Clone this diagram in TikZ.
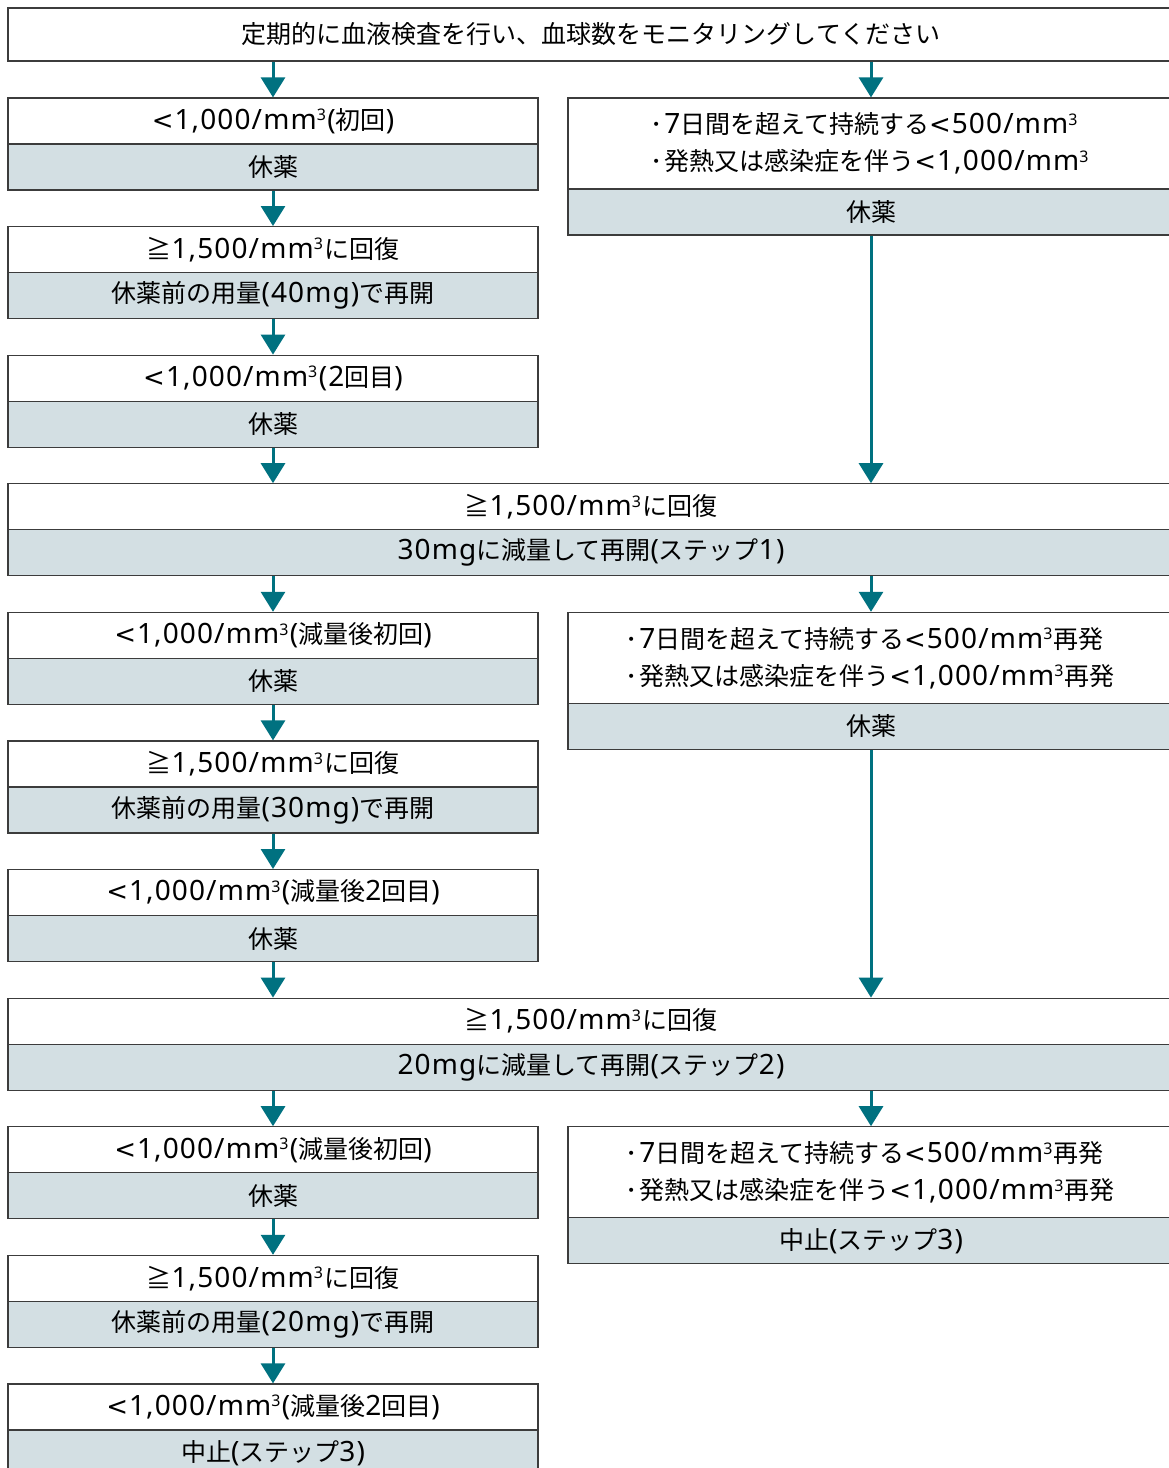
\documentclass[tikz,border=0pt]{standalone}
\usepackage{fontspec}
\setmainfont{Noto Sans CJK JP}
\newfontfamily\latfont[LetterSpace=4]{Noto Sans}
\newfontfamily\symfont{DejaVu Sans}
\usetikzlibrary{arrows.meta}
\definecolor{flowteal}{RGB}{0,113,128}
\definecolor{boxgray}{RGB}{211,223,227}
\definecolor{edgegray}{RGB}{60,60,60}
\newcommand{\lt}[1]{{\latfont\fontsize{28}{37}\selectfont #1}}
\newcommand{\lth}{{\symfont\fontsize{26}{37}\selectfont <}\kern1pt}
\newcommand{\cubed}{\raisebox{8.5pt}{\fontsize{16}{16}\selectfont 3}\kern1.5pt}
\newcommand{\bul}{\raisebox{4pt}{\symfont\fontsize{14}{14}\selectfont •}\kern4pt}

\begin{document}
\begin{tikzpicture}[x=1pt,y=-1pt,
    box/.style={draw=edgegray,line width=1.2pt,inner sep=0pt,minimum height=46pt,
      font=\fontsize{25}{37}\selectfont},
    cond/.style={box,fill=white},
    act/.style={box,fill=boxgray},
    lcol/.style={minimum width=530pt},
    rcol/.style={minimum width=606pt},
    wide/.style={minimum width=1166pt},
    flow/.style={draw=flowteal,line width=3pt,-{Triangle[length=20pt,width=24pt]}}]
    \useasboundingbox(0,0)rectangle(1168,1468);
    \node[cond,wide,minimum height=53pt](start) at (591,34.5){定期的に血液検査を行い、血球数をモニタリングしてください};
    % left column
    \node[cond,lcol](c1) at (273,121){\lth\lt{1,000/mm\cubed(}初回\lt{)}};
    \node[act,lcol](a1) at (273,167){休薬};
    \node[cond,lcol](c2) at (273,249.6){≧\lt{1,500/mm\cubed}に回復};
    \node[act,lcol](a2) at (273,295.6){休薬前の用量\lt{(40mg)}で再開};
    \node[cond,lcol](c3) at (273,378.2){\lth\lt{1,000/mm\cubed(2}回目\lt{)}};
    \node[act,lcol](a3) at (273,424.2){休薬};
    \node[cond,wide](w1) at (591,506.8){≧\lt{1,500/mm\cubed}に回復};
    \node[act,wide](wa1) at (591,552.8){\lt{30mg}に減量して再開\lt{(}ステップ\lt{1)}};
    \node[cond,lcol](c4) at (273,635.4){\lth\lt{1,000/mm\cubed(}減量後初回\lt{)}};
    \node[act,lcol](a4) at (273,681.4){休薬};
    \node[cond,lcol](c5) at (273,764){≧\lt{1,500/mm\cubed}に回復};
    \node[act,lcol](a5) at (273,810){休薬前の用量\lt{(30mg)}で再開};
    \node[cond,lcol](c6) at (273,892.6){\lth\lt{1,000/mm\cubed(}減量後\lt{2}回目\lt{)}};
    \node[act,lcol](a6) at (273,938.6){休薬};
    \node[cond,wide](w2) at (591,1021.2){≧\lt{1,500/mm\cubed}に回復};
    \node[act,wide](wa2) at (591,1067.2){\lt{20mg}に減量して再開\lt{(}ステップ\lt{2)}};
    \node[cond,lcol](c7) at (273,1149.8){\lth\lt{1,000/mm\cubed(}減量後初回\lt{)}};
    \node[act,lcol](a7) at (273,1195.8){休薬};
    \node[cond,lcol](c8) at (273,1278.4){≧\lt{1,500/mm\cubed}に回復};
    \node[act,lcol](a8) at (273,1324.4){休薬前の用量\lt{(20mg)}で再開};
    \node[cond,lcol](c9) at (273,1407){\lth\lt{1,000/mm\cubed(}減量後\lt{2}回目\lt{)}};
    \node[act,lcol](a9) at (273,1453){中止\lt{(}ステップ\lt{3)}};
    % right column
    \node[cond,rcol,minimum height=91pt,align=left](r1) at (871,143.5)
      {\bul\lt{7}日間を超えて持続する\lth\lt{500/mm\cubed}\\\bul 発熱又は感染症を伴う\lth\lt{1,000/mm\cubed}};
    \node[act,rcol](ra1) at (871,212){休薬};
    \node[cond,rcol,minimum height=91pt,align=left](r2) at (871,657.9)
      {\bul\lt{7}日間を超えて持続する\lth\lt{500/mm\cubed}再発\\\bul 発熱又は感染症を伴う\lth\lt{1,000/mm\cubed}再発};
    \node[act,rcol](ra2) at (871,726.4){休薬};
    \node[cond,rcol,minimum height=91pt,align=left](r3) at (871,1172.3)
      {\bul\lt{7}日間を超えて持続する\lth\lt{500/mm\cubed}再発\\\bul 発熱又は感染症を伴う\lth\lt{1,000/mm\cubed}再発};
    \node[act,rcol](ra3) at (871,1240.8){中止\lt{(}ステップ\lt{3)}};
    % arrows
    \draw[flow](c1|-start.south)--(c1.north);
    \draw[flow](r1|-start.south)--(r1.north);
    \draw[flow](a1)--(c2);
    \draw[flow](a2)--(c3);
    \draw[flow](a3.south)--(a3.south|-w1.north);
    \draw[flow](ra1.south)--(ra1.south|-w1.north);
    \draw[flow](c4|-wa1.south)--(c4.north);
    \draw[flow](r2|-wa1.south)--(r2.north);
    \draw[flow](a4)--(c5);
    \draw[flow](a5)--(c6);
    \draw[flow](a6.south)--(a6.south|-w2.north);
    \draw[flow](ra2.south)--(ra2.south|-w2.north);
    \draw[flow](c7|-wa2.south)--(c7.north);
    \draw[flow](r3|-wa2.south)--(r3.north);
    \draw[flow](a7)--(c8);
    \draw[flow](a8)--(c9);
\end{tikzpicture}
\end{document}
